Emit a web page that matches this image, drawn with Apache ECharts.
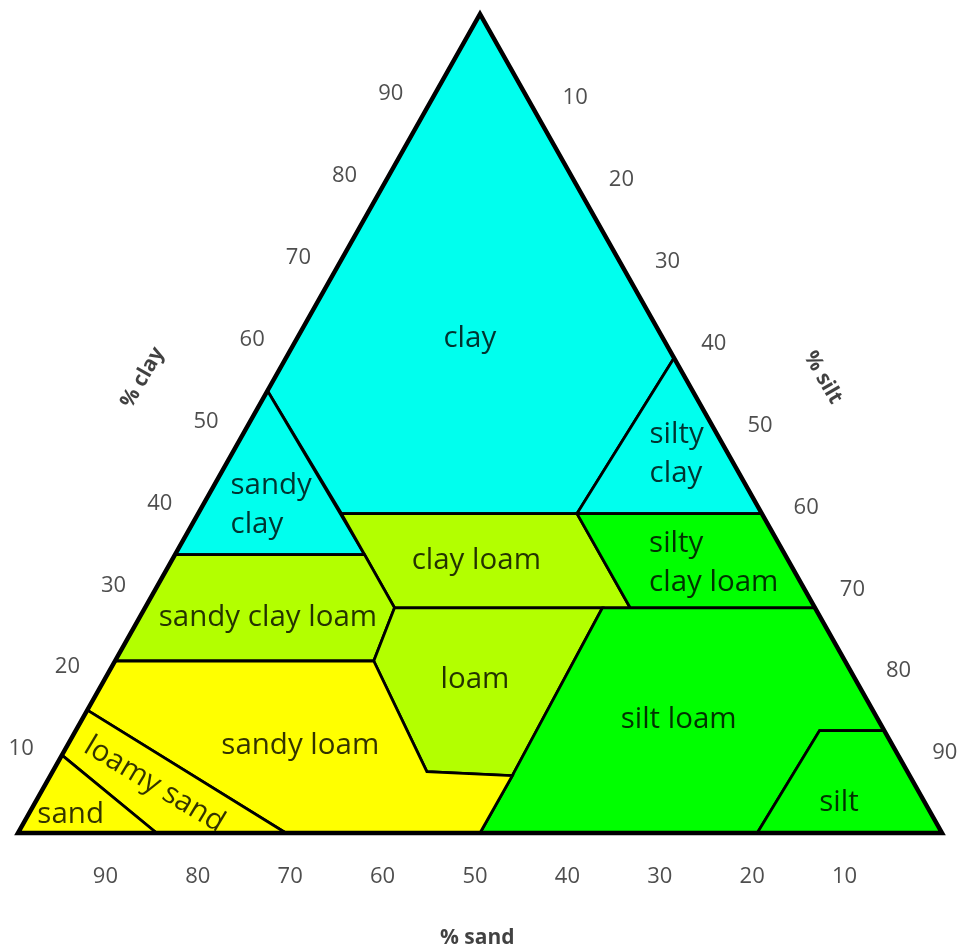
<!DOCTYPE html>
<html><head><meta charset="utf-8">
<script src="https://cdn.jsdelivr.net/npm/echarts@6/dist/echarts.min.js"></script>
<style>html,body{margin:0;padding:0;background:#fff}#c{width:959px;height:948px}</style>
</head><body><div id="c"></div>
<script>
// All vertices are ternary compositions [sand %, silt %, clay %]
const outerTriangle   = [[100,0,0],[0,100,0],[0,0,100]];
const clayRegion      = [[0,0,100],[46,0,54],[45.5,15.5,39],[20,41,39],[0,42,58]];
const siltyClay       = [[0,42,58],[20,41,39],[0,61,39]];
const sandyClay       = [[46,0,54],[66,0,34],[45.5,20.5,34]];
const clayLoam        = [[45.5,15.5,39],[20,41,39],[20,52.5,27.5],[45.5,27,27.5],[45.5,20.5,34]];
const siltyClayLoam   = [[20,41,39],[0,61,39],[0,72.5,27.5],[20,52.5,27.5]];
const sandyClayLoam   = [[66,0,34],[45.5,20.5,34],[45.5,27,27.5],[51,28,21],[79,0,21]];
const loam            = [[45.5,27,27.5],[23,49.5,27.5],[43,50,7],[52,40.5,7.5],[51,28,21]];
const siltLoam        = [[23,49.5,27.5],[0,72.5,27.5],[0,87.5,12.5],[7,80.5,12.5],[20,80,0],[50,50,0],[43,50,7]];
const silt            = [[7,80.5,12.5],[0,87.5,12.5],[0,100,0],[20,80,0]];
const sandyLoam       = [[79,0,21],[51,28,21],[52,40.5,7.5],[43,50,7],[50,50,0],[71,29,0],[85,0,15]];
const loamySand       = [[85,0,15],[71,29,0],[85,15,0],[90.5,0,9.5]];
const sand            = [[90.5,0,9.5],[85,15,0],[100,0,0]];

const regionNames  = ['clay','silty clay','sandy clay','clay loam','silty clay loam','sandy clay loam','loam','silt loam','silt','sandy loam','loamy sand','sand'];
const regionPolys  = [clayRegion,siltyClay,sandyClay,clayLoam,siltyClayLoam,sandyClayLoam,loam,siltLoam,silt,sandyLoam,loamySand,sand];
const regionColors = ['#00FFEE','#00FFEE','#00FFEE','#B3FF00','#00FF00','#B3FF00','#B3FF00','#00FF00','#00FF00','#FFFF00','#FFFF00','#FFFF00'];

// Region label texts and anchor compositions
const labelTexts  = ['clay','silty\nclay','sandy\nclay','clay loam','silty\nclay loam','sandy clay loam','loam','silt loam','silt','sandy loam','loamy sand','sand'];
const labelPos    = [[20.9,18.7,60.4],[8.5,45.2,46.3],[57,3,40],[33.8,33,33.2],[15.2,51.8,33],[59.8,13.9,26.3],[41.3,40.1,18.7],[21.6,64.6,13.8],[9.3,87,3.7],[64.1,25.2,10.7],[82.4,11.8,5.9],[93.2,4.6,2.2]];
const labelAlign  = ['center','left','left','center','left','center','center','center','center','center','center','center'];
const labelRotate = [0,0,0,0,0,0,0,0,0,0,-31,0];

// Tick labels
const clayTicks = [10,20,30,40,50,60,70,80,90];
const siltTicks = [10,20,30,40,50,60,70,80,90];
const sandTicks = [90,80,70,60,50,40,30,20,10];

// Axis titles and their anchor compositions (outside the triangle)
const axisTitles   = ['% clay','% silt','% sand'];
const axisTitlePos = [[58.7,-14.3,55.6],[-14.9,59.3,55.6],[56.7,56.1,-12.8]];
const axisTitleRot = [60,-60,0];

const toXY = p => [p[1] + p[2] / 2, p[2]];

const chart = echarts.init(document.getElementById('c'), null, {renderer:'canvas'});
const FONT = '"Open Sans", sans-serif';

const tickSeries = (data, offset) => ({
  type:'scatter', symbolSize:0, silent:true, clip:false,
  data: data,
  label:{show:true, position:'inside', offset:offset, formatter:p=>p.data.name,
         fontFamily:FONT, fontSize:22, color:'#222', align:'center', verticalAlign:'middle'}
});

chart.setOption({
  animation:false,
  grid:{left:18, top:14, width:924, height:819},
  xAxis:{type:'value', min:0, max:100, show:false},
  yAxis:{type:'value', min:0, max:100, show:false},
  series:[
    {
      type:'custom', clip:false, silent:true,
      data: regionPolys.map((poly,i)=>({name:regionNames[i], value:toXY(poly[0])})),
      renderItem:(params, api)=>{
        const poly = regionPolys[params.dataIndex];
        return {type:'polygon', shape:{points:poly.map(v=>api.coord(toXY(v)))},
                style:{fill:regionColors[params.dataIndex], stroke:'#000', lineWidth:2.8, lineJoin:'miter'}};
      }
    },
    {
      type:'custom', clip:false, silent:true,
      data:[{value:toXY(outerTriangle[0])}],
      renderItem:(params, api)=>({type:'polygon', shape:{points:outerTriangle.map(v=>api.coord(toXY(v)))},
                style:{fill:'none', stroke:'#000', lineWidth:4.5, lineJoin:'miter'}})
    },
    {
      type:'scatter', symbolSize:0, silent:true, clip:false,
      data: labelPos.map((p,i)=>({name:labelTexts[i], value:toXY(p),
        label:{align:labelAlign[i], rotate:labelRotate[i]}})),
      label:{show:true, position:'inside', formatter:p=>p.data.name, fontFamily:FONT, fontSize:29.5,
             lineHeight:39, color:'#000', verticalAlign:'middle'}
    },
    tickSeries(clayTicks.map(c=>({name:String(c), value:toXY([100-c,0,c])})), [-43,-2]),
    tickSeries(siltTicks.map(s=>({name:String(s), value:toXY([0,s,100-s])})), [49,2]),
    tickSeries(sandTicks.map(s=>({name:String(s), value:toXY([s,100-s,0])})), [-5,44]),
    {
      type:'scatter', symbolSize:0, silent:true, clip:false,
      data: axisTitlePos.map((p,i)=>({name:axisTitles[i], value:toXY(p), label:{rotate:axisTitleRot[i]}})),
      label:{show:true, position:'inside', formatter:p=>p.data.name, fontFamily:FONT, fontWeight:'bold',
             fontSize:21, color:'#111', align:'center', verticalAlign:'middle'}
    }
  ]
});
</script></body></html>
